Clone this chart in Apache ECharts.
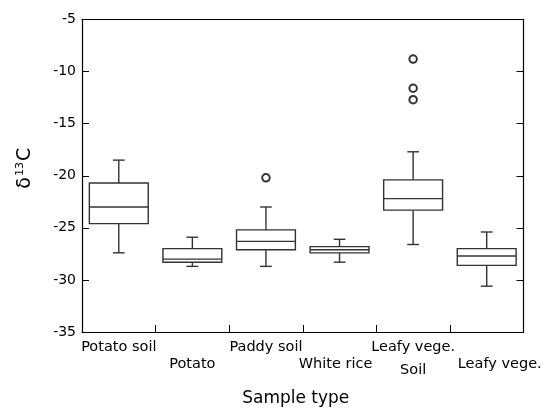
<!DOCTYPE html>
<html>
<head>
<meta charset="utf-8">
<script src="https://cdn.jsdelivr.net/npm/echarts@6/dist/echarts.min.js"></script>
<style>
  html, body { margin: 0; padding: 0; background: #fff; }
  #chart { width: 549px; height: 409px; }
</style>
</head>
<body>
<div id="chart"></div>
<script>
// Sample groups along the x axis
const categories = ['Potato soil', 'Potato', 'Paddy soil', 'White rice', 'Leafy vege. Soil', 'Leafy vege.'];

// Box statistics per group: [lower whisker, Q1, median, Q3, upper whisker]
const lowerWhisker = [-27.4, -28.7, -28.7, -28.3, -26.6, -30.6];
const quartile1    = [-24.6, -28.3, -27.1, -27.4, -23.3, -28.6];
const medians      = [-23.0, -28.0, -26.3, -27.1, -22.2, -27.7];
const quartile3    = [-20.7, -27.0, -25.2, -26.8, -20.4, -27.0];
const upperWhisker = [-18.5, -25.9, -23.0, -26.1, -17.7, -25.4];

// Outliers: [group index, value]
const outlierGroup = [2, 4, 4, 4];
const outlierValue = [-20.2, -8.8, -11.6, -12.7];

// Y axis ticks
const yMin = -35, yMax = -5, yStep = 5;

const boxData = categories.map((c, i) => [i, lowerWhisker[i], quartile1[i], medians[i], quartile3[i], upperWhisker[i]]);
const outlierData = outlierGroup.map((g, i) => [g, outlierValue[i]]);

const lineColor = '#333';
const font = 'DejaVu Sans';

const chart = echarts.init(document.getElementById('chart'));

function renderBox(params, api) {
  const idx = api.value(0);
  const band = api.size([1, 0])[0];
  const boxW = band * 0.8;
  const capW = band * 0.16;
  const pLow = api.coord([idx, api.value(1)]);
  const pQ1 = api.coord([idx, api.value(2)]);
  const pMed = api.coord([idx, api.value(3)]);
  const pQ3 = api.coord([idx, api.value(4)]);
  const pHigh = api.coord([idx, api.value(5)]);
  const x = pMed[0];
  const style = { stroke: lineColor, lineWidth: 1.4, fill: null };
  return {
    type: 'group',
    children: [
      { type: 'line', shape: { x1: x, y1: pQ1[1], x2: x, y2: pLow[1] }, style },
      { type: 'line', shape: { x1: x, y1: pQ3[1], x2: x, y2: pHigh[1] }, style },
      { type: 'line', shape: { x1: x - capW / 2, y1: pLow[1], x2: x + capW / 2, y2: pLow[1] }, style },
      { type: 'line', shape: { x1: x - capW / 2, y1: pHigh[1], x2: x + capW / 2, y2: pHigh[1] }, style },
      { type: 'rect', shape: { x: x - boxW / 2, y: pQ3[1], width: boxW, height: pQ1[1] - pQ3[1] },
        style: { stroke: lineColor, lineWidth: 1.4, fill: '#fff' } },
      { type: 'line', shape: { x1: x - boxW / 2, y1: pMed[1], x2: x + boxW / 2, y2: pMed[1] }, style }
    ]
  };
}

// Label layout: alternate rows so long names do not collide
const labelStyle = ['r1', 'r2', 'r1', 'r2w', 'r1', 'r2l'];
const labelText = ['Potato soil', 'Potato', 'Paddy soil', 'White rice', 'Leafy vege.\nSoil', 'Leafy vege.'];

chart.setOption({
  animation: false,
  backgroundColor: '#fff',
  grid: { left: 82, right: 25.5, top: 19.5, bottom: 77, containLabel: false, outerBoundsMode: 'none' },
  xAxis: [{
    type: 'category',
    data: categories,
    boundaryGap: true,
    name: 'Sample type',
    nameLocation: 'middle',
    nameGap: 58,
    nameTextStyle: { fontFamily: font, fontSize: 17, color: '#000', padding: [0, 14, 0, 0] },
    axisLine: { show: true, lineStyle: { color: '#000', width: 1.2 } },
    axisTick: { show: true, interval: 0, inside: true, length: 7, lineStyle: { color: '#000', width: 1 } },
    axisLabel: {
      interval: 0,
      margin: 4,
      fontFamily: font,
      fontSize: 14.5,
      color: '#000',
      formatter: function (v, i) {
        const style = labelStyle[i];
        return labelText[i].split('\n').map(t => '{' + style + '|' + t + '}').join('\n');
      },
      rich: {
        r1: { fontFamily: font, fontSize: 14.5, color: '#000', lineHeight: 23 },
        r2: { fontFamily: font, fontSize: 14.5, color: '#000', padding: [21, 0, 0, 0] },
        r2w: { fontFamily: font, fontSize: 14.5, color: '#000', padding: [21, 8, 0, 0] },
        r2l: { fontFamily: font, fontSize: 14.5, color: '#000', padding: [21, 0, 0, 26] }
      }
    },
    splitLine: { show: false }
  }, {
    type: 'category',
    data: categories,
    position: 'top',
    axisLine: { show: true, lineStyle: { color: '#000', width: 1.2 } },
    axisTick: { show: false },
    axisLabel: { show: false }
  }],
  yAxis: [{
    type: 'value',
    min: yMin,
    max: yMax,
    interval: yStep,
    name: '{d|δ}{s|13}{d|C}',
    nameLocation: 'middle',
    nameGap: 46,
    nameRotate: 90,
    nameTextStyle: {
      padding: [0, 0, 0, 15],
      rich: {
        d: { fontFamily: font, fontSize: 19, color: '#000' },
        s: { fontFamily: font, fontSize: 11, color: '#000', padding: [0, 1, 10, 1] }
      }
    },
    axisLine: { show: true, lineStyle: { color: '#000', width: 1.2 } },
    axisTick: { show: true, inside: true, length: 7, lineStyle: { color: '#000', width: 1 } },
    axisLabel: { fontFamily: font, fontSize: 14, color: '#000', margin: 6 },
    splitLine: { show: false }
  }, {
    type: 'value',
    min: yMin,
    max: yMax,
    interval: yStep,
    position: 'right',
    axisLine: { show: true, lineStyle: { color: '#000', width: 1.2 } },
    axisTick: { show: true, inside: true, length: 7, lineStyle: { color: '#000', width: 1 } },
    axisLabel: { show: false },
    splitLine: { show: false }
  }],
  series: [{
    type: 'custom',
    renderItem: renderBox,
    data: boxData,
    encode: { x: 0, y: [1, 2, 3, 4, 5] },
    z: 2
  }, {
    type: 'scatter',
    data: outlierData,
    symbol: 'emptyCircle',
    symbolSize: 7.5,
    itemStyle: { color: '#000', borderColor: '#000', borderWidth: 1 },
    z: 3
  }]
});
</script>
</body>
</html>
